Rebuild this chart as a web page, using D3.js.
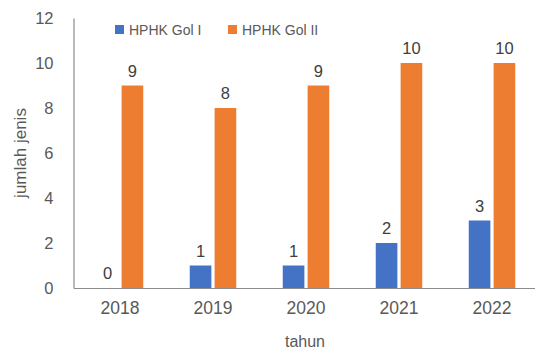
<!DOCTYPE html>
<html>
<head>
<meta charset="utf-8">
<script src="https://cdn.jsdelivr.net/npm/d3@7"></script>
<style>
  html, body { margin: 0; padding: 0; background: #fff; }
  svg { display: block; font-family: "Liberation Sans", Arial, sans-serif; }
</style>
</head>
<body>
<svg id="chart" width="535" height="352"></svg>
<script>
// Number of species per year, by group
const years = ["2018", "2019", "2020", "2021", "2022"];
const seriesNames = ["HPHK Gol I", "HPHK Gol II"];
const golI = [0, 1, 1, 2, 3];
const golII = [9, 8, 9, 10, 10];
const yTicks = [0, 2, 4, 6, 8, 10, 12];
const colors = ["#4472C4", "#ED7D31"];

const rows = years.map((y, i) => ({ year: y, values: [golI[i], golII[i]] }));

const svg = d3.select("#chart");
const margin = { left: 73.5, right: -3.5, top: 18, bottom: 64 };
const W = 535, H = 352;

const x = d3.scaleBand().domain(years)
  .range([margin.left, W - margin.right]).paddingInner(0.5).paddingOuter(0.25);
const xInner = d3.scaleBand().domain(d3.range(seriesNames.length))
  .range([0, x.bandwidth()]).paddingInner(0.13);
const y = d3.scaleLinear().domain([0, 12]).range([H - margin.bottom, margin.top]);

// y axis: line plus tick labels
const yAxis = svg.append("g")
  .attr("transform", `translate(${margin.left},0)`)
  .call(d3.axisLeft(y).tickValues(yTicks).tickSize(0).tickPadding(20));
yAxis.select(".domain").attr("stroke", "#8c8c8c").attr("stroke-width", 1.2);
yAxis.selectAll("text").attr("fill", "#595959").style("font-size", "16.5px")
  .style("font-family", "Liberation Sans, Arial, sans-serif");

// bars
const groups = svg.append("g").selectAll("g").data(rows).join("g")
  .attr("transform", d => `translate(${x(d.year)},0)`);
groups.selectAll("rect").data(d => d.values).join("rect")
  .attr("x", (v, i) => xInner(i))
  .attr("width", xInner.bandwidth())
  .attr("y", v => y(v))
  .attr("height", v => y(0) - y(v))
  .attr("fill", (v, i) => colors[i]);

// value labels
groups.selectAll("text").data(d => d.values).join("text")
  .attr("x", (v, i) => xInner(i) + xInner.bandwidth() / 2)
  .attr("y", v => y(v) - 9)
  .attr("text-anchor", "middle")
  .attr("fill", "#404040")
  .style("font-size", "16.5px")
  .text(v => v);

// x axis
const xAxis = svg.append("g")
  .attr("transform", `translate(0,${y(0)})`)
  .call(d3.axisBottom(x).tickSize(0).tickPadding(14));
xAxis.select(".domain").attr("stroke", "#8c8c8c").attr("stroke-width", 1.2);
xAxis.selectAll("text").attr("fill", "#595959").style("font-size", "17.5px")
  .style("font-family", "Liberation Sans, Arial, sans-serif");

// axis titles
svg.append("text")
  .attr("x", 305).attr("y", 347)
  .attr("text-anchor", "middle").attr("fill", "#595959")
  .style("font-size", "16px").text("tahun");
svg.append("text")
  .attr("transform", "translate(26,153) rotate(-90)")
  .attr("text-anchor", "middle").attr("fill", "#595959")
  .style("font-size", "17px").text("jumlah jenis");

// legend
const legend = svg.append("g");
const legendX = [115, 228];
seriesNames.forEach((name, i) => {
  legend.append("rect")
    .attr("x", legendX[i]).attr("y", 25).attr("width", 9).attr("height", 9)
    .attr("fill", colors[i]);
  legend.append("text")
    .attr("x", legendX[i] + 14).attr("y", 34.5)
    .attr("fill", "#595959").style("font-size", "14px").text(name);
});
</script>
</body>
</html>
